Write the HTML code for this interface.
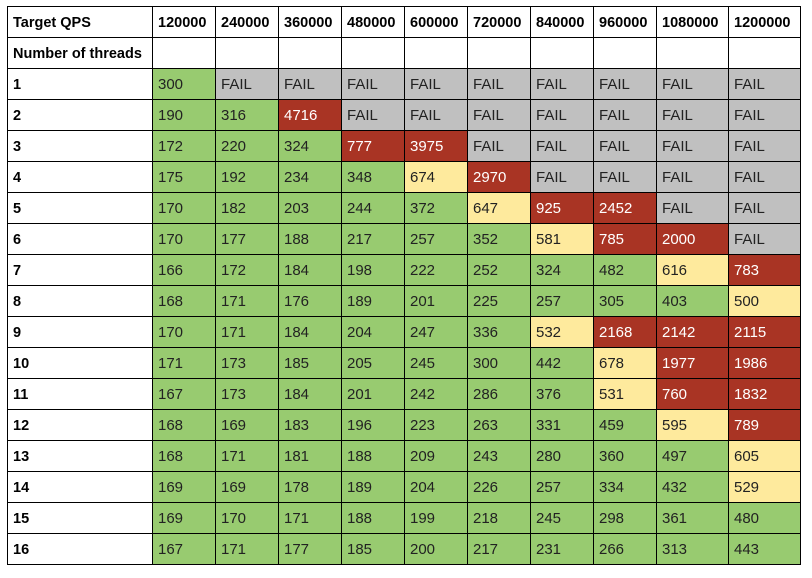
<!DOCTYPE html>
<html><head><meta charset="utf-8">
<style>
body{margin:0;background:#fff;width:812px;height:578px;position:relative;overflow:hidden;font-family:"Liberation Sans",Arial,sans-serif}
.c{position:absolute;box-sizing:border-box;border:1px solid #000;margin:0;padding-left:5px;padding-top:1px;line-height:30px;font-size:15px;color:#222;white-space:nowrap;overflow:hidden}
.h{font-weight:bold;font-size:14.5px;color:#000}
</style></head><body>
<div id="t"></div>
<script>
const qpsLabels=["120000","240000","360000","480000","600000","720000","840000","960000","1080000","1200000"];
const threadLabels=["1","2","3","4","5","6","7","8","9","10","11","12","13","14","15","16"];
const values=[
["300","FAIL","FAIL","FAIL","FAIL","FAIL","FAIL","FAIL","FAIL","FAIL"],
["190","316","4716","FAIL","FAIL","FAIL","FAIL","FAIL","FAIL","FAIL"],
["172","220","324","777","3975","FAIL","FAIL","FAIL","FAIL","FAIL"],
["175","192","234","348","674","2970","FAIL","FAIL","FAIL","FAIL"],
["170","182","203","244","372","647","925","2452","FAIL","FAIL"],
["170","177","188","217","257","352","581","785","2000","FAIL"],
["166","172","184","198","222","252","324","482","616","783"],
["168","171","176","189","201","225","257","305","403","500"],
["170","171","184","204","247","336","532","2168","2142","2115"],
["171","173","185","205","245","300","442","678","1977","1986"],
["167","173","184","201","242","286","376","531","760","1832"],
["168","169","183","196","223","263","331","459","595","789"],
["168","171","181","188","209","243","280","360","497","605"],
["169","169","178","189","204","226","257","334","432","529"],
["169","170","171","188","199","218","245","298","361","480"],
["167","171","177","185","200","217","231","266","313","443"]];
const xs=[7,152,215,278,341,404,467,530,593,656,728,800];
const y0=6,rh=31;
const t=document.getElementById('t');
function cell(x,y,w,txt,cls,bg,col,name){
 const d=document.createElement('div');
 d.className='c '+(cls||'');
 d.style.left=x+'px';d.style.top=y+'px';d.style.width=(w+1)+'px';d.style.height=(rh+1)+'px';
 if(bg)d.style.background=bg; if(col)d.style.color=col;
 d.textContent=txt;
 
 
 t.appendChild(d);
}
cell(xs[0],y0,xs[1]-xs[0],"Target QPS","h",null,null,"header-target-qps");
qpsLabels.forEach((q,i)=>cell(xs[i+1],y0,xs[i+2]-xs[i+1],q,"h",null,null,"header-qps-"+q));
cell(xs[0],y0+rh,xs[1]-xs[0],"Number of threads","h",null,null,"header-threads");
qpsLabels.forEach((q,i)=>cell(xs[i+1],y0+rh,xs[i+2]-xs[i+1],"","",null,null,"empty-cell"));
threadLabels.forEach((r,ri)=>{
 const y=y0+rh*(ri+2);
 cell(xs[0],y,xs[1]-xs[0],r,"h",null,null,"row-label-"+r);
 values[ri].forEach((v,ci)=>{
  let bg,col;
  if(v==="FAIL"){bg="#c0c0c0";}
  else{const n=+v; if(n>=700){bg="#a93424";col="#fff";} else if(n>=500){bg="#feea9d";} else bg="#98cb70";}
  cell(xs[ci+1],y,xs[ci+2]-xs[ci+1],v,"",bg,col,"cell-"+r+"-"+qpsLabels[ci]);
 });
});
</script>
</body></html>
